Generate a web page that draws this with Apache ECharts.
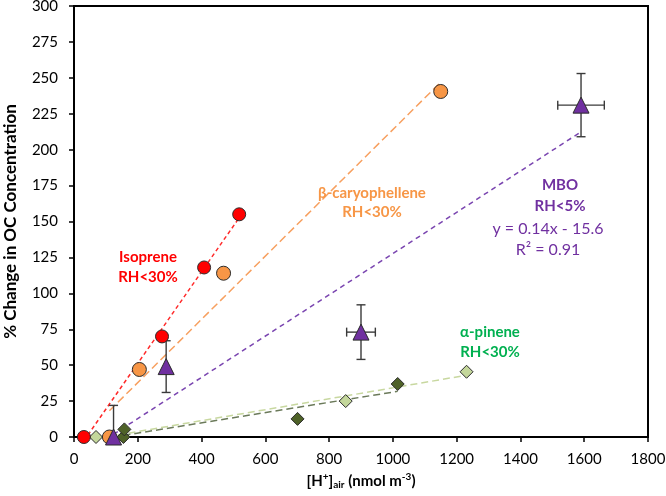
<!DOCTYPE html>
<html><head><meta charset="utf-8">
<script src="https://cdn.jsdelivr.net/npm/echarts@6/dist/echarts.min.js"></script>
<style>html,body{margin:0;padding:0;background:#fff}#c{width:666px;height:496px}</style>
</head><body><div id="c"></div>
<script>
// ---- data ----
const isopreneX = [31, 276, 408, 518];
const isopreneY = [0, 70, 118, 155];
const caryX = [111, 205, 469, 1150];
const caryY = [0, 47, 114, 240.5];
const mboX = [124, 289, 900, 1590];
const mboY = [0, 49, 73, 231];
const mboYErr = [22, 18, 19, 22];
const mboXErr = [0, 0, 45, 73];
const pineneLightX = [69, 852, 1231];
const pineneLightY = [0, 25, 45.4];
const pineneDarkX = [155, 158, 701, 1015];
const pineneDarkY = [0, 5.3, 12.6, 36.9];
// trendline end points (x, y)
const isopreneTrend = [[31, -2.6], [518, 152.6]];
const caryTrend = [[111, 18.3], [1150, 247]];
const mboTrend = [[124, 1.9], [1590, 212.4]];
const pineneLightTrend = [[69, -1.2], [1231, 43]];
const pineneDarkTrend = [[155, 1.1], [1015, 31.8]];
const xTicks = [0, 200, 400, 600, 800, 1000, 1200, 1400, 1600, 1800];
const yTicks = [0, 25, 50, 75, 100, 125, 150, 175, 200, 225, 250, 275, 300];

const zip = (xs, ys) => xs.map((x, i) => [x, ys[i]]);
const FONT = 'Lato';
const chart = echarts.init(document.getElementById('c'));

function trend(data, color, dash) {
  return { type: 'line', data: data, symbol: 'none', silent: true, z: 2, clip: true,
    lineStyle: { color: color, width: 1.5, type: dash } };
}
function pts(data, symbol, size, color) {
  return { type: 'scatter', data: data, symbol: symbol, symbolSize: size, z: 5,
    itemStyle: { color: color, borderColor: '#2b2b2b', borderWidth: 1, opacity: 1 } };
}

const errData = mboX.map((x, i) => [x, mboY[i], mboXErr[i], mboYErr[i]]);

chart.setOption({
  animation: false,
  backgroundColor: '#fff',
  grid: { left: 74, right: 18, top: 6, bottom: 59, show: true, borderColor: '#000', borderWidth: 2,
    containLabel: false, outerBoundsMode: 'none' },
  xAxis: {
    type: 'value', min: xTicks[0], max: xTicks[xTicks.length - 1], interval: 200,
    axisLine: { show: true, lineStyle: { color: '#000', width: 2 } },
    axisTick: { show: true, inside: false, length: 5, lineStyle: { color: '#000', width: 1.5 } },
    axisLabel: { color: '#000', fontFamily: FONT, fontSize: 15, margin: 15, formatter: v => String(v) },
    splitLine: { show: false },
    name: '{b|[H}{sup|+}{b|]}{sub|air}{b| (nmol m}{sup|-3}{b|)}',
    nameLocation: 'middle', nameGap: 35,
    nameTextStyle: { rich: {
      b: { fontFamily: FONT, fontWeight: 'bold', fontSize: 15, color: '#000' },
      sup: { fontFamily: FONT, fontWeight: 'bold', fontSize: 10, color: '#000', verticalAlign: 'top', padding: [0, 0, 8, 0] },
      sub: { fontFamily: FONT, fontWeight: 'bold', fontSize: 10, color: '#000', verticalAlign: 'bottom', padding: [7, 0, 0, 0] }
    } }
  },
  yAxis: {
    type: 'value', min: yTicks[0], max: yTicks[yTicks.length - 1], interval: 25,
    axisLine: { show: true, lineStyle: { color: '#000', width: 2 } },
    axisTick: { show: true, inside: false, length: 5, lineStyle: { color: '#000', width: 1.5 } },
    axisLabel: { color: '#000', fontFamily: FONT, fontSize: 15, margin: 16 },
    splitLine: { show: false },
    name: '% Change in OC Concentration', nameLocation: 'middle', nameGap: 55,
    nameTextStyle: { fontFamily: FONT, fontWeight: 'bold', fontSize: 17, color: '#000' }
  },
  series: [
    trend(isopreneTrend, '#ff2a2a', [4, 3]),
    trend(caryTrend, '#f7a060', [8, 4]),
    trend(mboTrend, '#7a45b0', [5, 4]),
    trend(pineneLightTrend, '#c8d8a0', [7, 4]),
    trend(pineneDarkTrend, '#6b7a5a', [7, 4]),
    {
      type: 'custom', data: errData, z: 3, clip: true,
      renderItem: function (params, api) {
        const x = api.value(0), y = api.value(1), xe = api.value(2), ye = api.value(3);
        const c = api.coord([x, y]);
        const top = api.coord([x, y + ye]);
        const bot = api.coord([x, y - ye]);
        const cap = 4.5;
        const st = { stroke: '#3a3a3a', lineWidth: 1.4 };
        const ch = [
          { type: 'line', shape: { x1: c[0], y1: top[1], x2: c[0], y2: bot[1] }, style: st },
          { type: 'line', shape: { x1: c[0] - cap, y1: top[1], x2: c[0] + cap, y2: top[1] }, style: st },
          { type: 'line', shape: { x1: c[0] - cap, y1: bot[1], x2: c[0] + cap, y2: bot[1] }, style: st }
        ];
        if (xe > 0) {
          const l = api.coord([x - xe, y]), r = api.coord([x + xe, y]);
          ch.push({ type: 'line', shape: { x1: l[0], y1: c[1], x2: r[0], y2: c[1] }, style: st });
          ch.push({ type: 'line', shape: { x1: l[0], y1: c[1] - cap, x2: l[0], y2: c[1] + cap }, style: st });
          ch.push({ type: 'line', shape: { x1: r[0], y1: c[1] - cap, x2: r[0], y2: c[1] + cap }, style: st });
        }
        return { type: 'group', children: ch };
      }
    },
    pts(zip(pineneLightX, pineneLightY), 'diamond', [13, 13], '#c4d79b'),
    pts(zip(pineneDarkX, pineneDarkY), 'diamond', [13, 13], '#4f6228'),
    pts(zip(caryX, caryY), 'circle', 14, '#f79646'),
    pts(zip(isopreneX, isopreneY), 'circle', 13, '#ff0000'),
    pts(zip(mboX, mboY), 'triangle', 16, '#7030a0')
  ],
  graphic: [
    { type: 'text', x: 148, y: 267, style: { text: 'Isoprene\nRH<30%', fill: '#ff0000', font: 'bold 15px Lato', align: 'center', verticalAlign: 'middle', lineHeight: 20 }, z: 10 },
    { type: 'text', x: 372, y: 203, style: { text: 'β-caryophellene\nRH<30%', fill: '#f79646', font: 'bold 15px Lato', align: 'center', verticalAlign: 'middle', lineHeight: 19 }, z: 10 },
    { type: 'text', x: 560, y: 195.5, style: { text: 'MBO\nRH<5%', fill: '#7030a0', font: 'bold 15px Lato', align: 'center', verticalAlign: 'middle', lineHeight: 21 }, z: 10 },
    { type: 'text', x: 548, y: 239.5, style: { text: 'y = 0.14x - 15.6\nR² = 0.91', fill: '#7030a0', font: '16px Lato', align: 'center', verticalAlign: 'middle', lineHeight: 21 }, z: 10 },
    { type: 'text', x: 490, y: 342, style: { text: 'α-pinene\nRH<30%', fill: '#00b050', font: 'bold 15px Lato', align: 'center', verticalAlign: 'middle', lineHeight: 20 }, z: 10 }
  ]
});
</script></body></html>
